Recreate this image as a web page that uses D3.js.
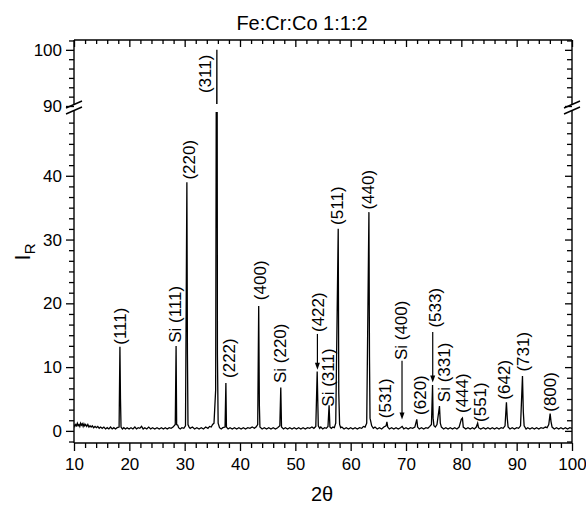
<!DOCTYPE html>
<html>
<head>
<meta charset="utf-8">
<title>Fe:Cr:Co 1:1:2</title>
<script src="https://cdn.jsdelivr.net/npm/d3@7"></script>
<style>
  body { margin: 0; background: #fff; }
  text { font-family: "Liberation Sans", Arial, sans-serif; fill: #000; }
</style>
</head>
<body>
<script>
// XRD pattern, [2theta, I_R]
var pattern = [
  [10.0, 1.0], [10.15, 0.7], [10.3, 1.0], [10.45, 0.8], [10.6, 1.2], [10.75, 0.8], [10.9, 1.0],
  [11.05, 0.7], [11.2, 1.2], [11.35, 0.9], [11.5, 1.1], [11.65, 0.7], [11.8, 1.1], [11.95, 0.8],
  [12.1, 1.0], [12.3, 0.7], [12.5, 1.0], [12.7, 0.6], [12.9, 0.8], [13.1, 0.6], [13.3, 0.8],
  [13.55, 0.5], [13.8, 0.7], [14.05, 0.5], [14.3, 0.7], [14.55, 0.4], [14.8, 0.6], [15.1, 0.4],
  [15.4, 0.6], [15.7, 0.3], [16.0, 0.5], [16.3, 0.3], [16.6, 0.6], [16.9, 0.3], [17.2, 0.5],
  [17.5, 0.3], [17.8, 0.5], [18.15, 0.6],
  [18.3, 13.2], [18.4, 5.0], [18.5, 0.6],
  [18.75, 0.3], [19.0, 0.5], [19.3, 0.3], [19.6, 0.5], [19.95, 0.3], [20.3, 0.5], [20.65, 0.3],
  [21.0, 0.6], [21.3, 0.3], [21.6, 0.5], [21.9, 0.4], [22.2, 0.7], [22.5, 0.3], [22.8, 0.5],
  [23.15, 0.3], [23.5, 0.6], [23.85, 0.3], [24.2, 0.5], [24.6, 0.3], [25.0, 0.5], [25.4, 0.3],
  [25.8, 0.5], [26.15, 0.3], [26.5, 0.5], [26.85, 0.3], [27.2, 0.5], [27.55, 0.4], [27.9, 0.6],
  [28.3, 1.0], [28.45, 13.3], [28.55, 1.0], [28.75, 0.9], [28.9, 0.5], [29.2, 0.3], [29.5, 0.5],
  [29.85, 0.4], [30.15, 0.8], [30.4, 39.0], [30.5, 12.0], [30.6, 1.0], [30.8, 0.6], [31.0, 0.4],
  [31.4, 0.6], [31.8, 0.3], [32.2, 0.5], [32.6, 0.3], [33.0, 0.5], [33.4, 0.3], [33.8, 0.6],
  [34.2, 0.4], [34.5, 0.7], [34.8, 0.6], [35.05, 1.0], [35.3, 1.2], [35.6, 6.4],
  [35.82, 100], [35.92, 12.0], [36.05, 1.2], [36.3, 0.5], [36.6, 0.3], [36.9, 0.5],
  [37.3, 0.6], [37.45, 7.5], [37.55, 0.6], [37.85, 0.3], [38.2, 0.5], [38.6, 0.3], [39.0, 0.5],
  [39.4, 0.3], [39.8, 0.5], [40.2, 0.3], [40.6, 0.5], [41.0, 0.3], [41.4, 0.5], [41.8, 0.4],
  [42.2, 0.6], [42.6, 0.4], [42.9, 0.6], [43.2, 1.0], [43.38, 19.6], [43.5, 4.0], [43.6, 0.6],
  [44.0, 0.3], [44.4, 0.5], [44.8, 0.3], [45.2, 0.5], [45.6, 0.3], [46.0, 0.5], [46.4, 0.3],
  [46.8, 0.5], [47.2, 0.8], [47.37, 6.8], [47.5, 0.6], [47.85, 0.3], [48.2, 0.5], [48.6, 0.3],
  [49.0, 0.5], [49.4, 0.3], [49.8, 0.5], [50.2, 0.3], [50.6, 0.5], [51.0, 0.3], [51.4, 0.5],
  [51.8, 0.3], [52.2, 0.5], [52.6, 0.4], [53.0, 0.6], [53.35, 0.4],
  [53.7, 0.7], [53.95, 9.3], [54.05, 5.0], [54.15, 0.8], [54.4, 0.4], [54.6, 0.6], [54.95, 0.3],
  [55.3, 0.5], [55.6, 0.4], [55.9, 0.7], [56.1, 4.0], [56.25, 0.6], [56.5, 0.4], [56.8, 0.6],
  [57.05, 0.5], [57.3, 1.2],
  [57.75, 31.7], [57.85, 6.0], [58.0, 1.0], [58.2, 0.5], [58.4, 0.6], [58.8, 0.3], [59.2, 0.5],
  [59.6, 0.3], [60.0, 0.5], [60.4, 0.3], [60.8, 0.5], [61.2, 0.3], [61.6, 0.5], [62.0, 0.4],
  [62.3, 0.7], [62.6, 0.6], [62.9, 1.2], [63.3, 34.3], [63.4, 11.6], [63.5, 2.0], [63.8, 0.8],
  [64.1, 0.4], [64.4, 0.6], [64.8, 0.3], [65.2, 0.5], [65.6, 0.3], [66.0, 0.6], [66.4, 0.8],
  [66.55, 1.4], [66.7, 0.6], [67.0, 0.3], [67.4, 0.5], [67.8, 0.3], [68.2, 0.5], [68.6, 0.3],
  [69.0, 0.5], [69.3, 0.7], [69.6, 0.3], [70.0, 0.5], [70.4, 0.3], [70.8, 0.5], [71.2, 0.4],
  [71.6, 0.6], [71.95, 1.8], [72.1, 0.6], [72.4, 0.3], [72.8, 0.5], [73.2, 0.3], [73.6, 0.5],
  [73.95, 0.4], [74.3, 0.7], [74.6, 1.0], [74.8, 7.2], [74.9, 2.0],
  [75.05, 0.8], [75.3, 0.6], [75.6, 1.0], [76.05, 3.9], [76.2, 1.2], [76.4, 0.6], [76.8, 0.3],
  [77.2, 0.5], [77.6, 0.3], [78.0, 0.5], [78.4, 0.3], [78.8, 0.5], [79.2, 0.3], [79.6, 0.6],
  [80.0, 1.8], [80.2, 2.0], [80.35, 0.6], [80.8, 0.3], [81.2, 0.5], [81.6, 0.3], [82.0, 0.5],
  [82.35, 0.3], [82.7, 0.6], [82.95, 1.2], [83.1, 0.5], [83.5, 0.3], [84.0, 0.5], [84.4, 0.3],
  [84.8, 0.5], [85.2, 0.3], [85.6, 0.5], [86.0, 0.3], [86.4, 0.5], [86.8, 0.3], [87.2, 0.5],
  [87.55, 0.4], [87.9, 0.8], [88.15, 4.5], [88.3, 2.0], [88.45, 0.6], [88.8, 0.3], [89.2, 0.5],
  [89.6, 0.3], [90.0, 0.5], [90.35, 0.4], [90.7, 0.8], [91.05, 8.6], [91.2, 3.0], [91.35, 0.8],
  [91.7, 0.3], [92.0, 0.5], [92.4, 0.3], [92.8, 0.5], [93.2, 0.3], [93.6, 0.5], [94.0, 0.3],
  [94.4, 0.5], [94.8, 0.4], [95.2, 0.6], [95.5, 0.5], [95.8, 1.0], [96.05, 2.7], [96.2, 1.5],
  [96.4, 0.6], [96.8, 0.3], [97.2, 0.5], [97.6, 0.3], [98.0, 0.5], [98.4, 0.3], [98.8, 0.5],
  [99.2, 0.3], [99.6, 0.5], [100.0, 0.4]
];

// peak labels: text, centre 2theta, intensity where the text starts
var labelText = ["(111)", "Si (111)", "(220)", "(311)", "(222)", "(400)", "Si (220)", "(422)",
  "Si (311)", "(511)", "(440)", "(531)", "Si (400)", "(620)", "(533)", "Si (331)", "(444)",
  "(551)", "(642)", "(731)", "(800)"];
var labelX = [18.35, 28.33, 30.87, 33.68, 38.13, 43.75, 47.38, 54.18,
  56.0, 57.63, 63.26, 66.34, 69.24, 72.6, 75.32, 76.87, 80.13,
  83.4, 87.75, 91.2, 96.19];
var labelY = [13.5, 13.8, 39.4, 92.3, 8.3, 20.5, 7.5, 15.5,
  3.8, 32.3, 34.7, 2.0, 11.1, 2.5, 16.2, 4.5, 2.8,
  1.4, 4.9, 9.3, 3.0];

// arrows: 2theta, from I, to I
var arrows = [[53.99, 15.2, 9.6], [69.28, 11.0, 1.8], [74.83, 15.5, 7.6]];

var xTicks = [10, 20, 30, 40, 50, 60, 70, 80, 90, 100];
var yTicksLow = [0, 10, 20, 30, 40];
var yTicksHigh = [90, 100];

var W = 586, H = 505;
var pLeft = 74, pRight = 572, pTop = 40, pBottom = 443;
var lowTop = 112, highBottom = 104;

var svg = d3.select("body").append("svg").attr("width", W).attr("height", H);

var x = d3.scaleLinear().domain([10, 100]).range([pLeft, pRight]);
var yLow = d3.scaleLinear().domain([-1.9, 50]).range([pBottom, lowTop]);
var yHigh = d3.scaleLinear().domain([90, 101.75]).range([106, pTop]);
function yAny(v) { return v > 70 ? yHigh(v) : yLow(v); }

var defs = svg.append("defs");
defs.append("clipPath").attr("id", "clipLow").append("rect")
  .attr("x", pLeft).attr("y", lowTop).attr("width", pRight - pLeft).attr("height", pBottom - lowTop);
defs.append("clipPath").attr("id", "clipHigh").append("rect")
  .attr("x", pLeft).attr("y", pTop).attr("width", pRight - pLeft).attr("height", highBottom - pTop);

// pattern, drawn once per panel
var lineLow = d3.line().x(function (d) { return x(d[0]); }).y(function (d) { return yLow(d[1]); });
var lineHigh = d3.line().x(function (d) { return x(d[0]); }).y(function (d) { return yHigh(d[1]); });
svg.append("path").datum(pattern).attr("clip-path", "url(#clipLow)")
  .attr("d", lineLow).attr("fill", "none").attr("stroke", "#000").attr("stroke-width", 1.3);
svg.append("path").datum(pattern).attr("clip-path", "url(#clipHigh)")
  .attr("d", lineHigh).attr("fill", "none").attr("stroke", "#000").attr("stroke-width", 1.3);

// axes
function styleAxis(g, size) {
  g.select(".domain").remove();
  g.selectAll("line").attr("stroke", "#000").attr("stroke-width", 1.3);
  g.selectAll("text").attr("font-family", "Liberation Sans, Arial, sans-serif")
    .attr("font-size", size).attr("fill", "#000");
}
var minorY = d3.range(-1, 31).map(function (i) { return i * 10 / 6; })
  .filter(function (v) { return Math.abs(v / 10 - Math.round(v / 10)) > 1e-6 && v <= 50; });
var minorYHigh = d3.range(54, 62).map(function (i) { return i * 10 / 6; })
  .filter(function (v) { return Math.abs(v / 10 - Math.round(v / 10)) > 1e-6 && v <= 101.75; });
var minorX = d3.range(10, 101, 2).filter(function (v) { return v % 10 !== 0; });

// left
svg.append("g").attr("transform", "translate(" + pLeft + ",0)")
  .call(d3.axisLeft(yLow).tickValues(yTicksLow).tickSize(8).tickPadding(4)).call(styleAxis, 17);
svg.append("g").attr("transform", "translate(" + pLeft + ",0)")
  .call(d3.axisLeft(yLow).tickValues(minorY).tickSize(5).tickFormat("")).call(styleAxis, 17);
svg.append("g").attr("transform", "translate(" + pLeft + ",0)")
  .call(d3.axisLeft(yHigh).tickValues(yTicksHigh).tickSize(8).tickPadding(4)).call(styleAxis, 17);
svg.append("g").attr("transform", "translate(" + pLeft + ",0)")
  .call(d3.axisLeft(yHigh).tickValues(minorYHigh).tickSize(5).tickFormat("")).call(styleAxis, 17);
// right (inward)
svg.append("g").attr("transform", "translate(" + pRight + ",0)")
  .call(d3.axisLeft(yLow).tickValues(yTicksLow).tickSize(7).tickFormat("")).call(styleAxis, 17);
svg.append("g").attr("transform", "translate(" + pRight + ",0)")
  .call(d3.axisLeft(yLow).tickValues(minorY).tickSize(5).tickFormat("")).call(styleAxis, 17);
svg.append("g").attr("transform", "translate(" + pRight + ",0)")
  .call(d3.axisLeft(yHigh).tickValues(yTicksHigh).tickSize(7).tickFormat("")).call(styleAxis, 17);
svg.append("g").attr("transform", "translate(" + pRight + ",0)")
  .call(d3.axisLeft(yHigh).tickValues(minorYHigh).tickSize(5).tickFormat("")).call(styleAxis, 17);
// bottom
svg.append("g").attr("transform", "translate(0," + pBottom + ")")
  .call(d3.axisBottom(x).tickValues(xTicks).tickSize(8).tickPadding(7)).call(styleAxis, 17);
svg.append("g").attr("transform", "translate(0," + pBottom + ")")
  .call(d3.axisBottom(x).tickValues(minorX).tickSize(5).tickFormat("")).call(styleAxis, 17);
// top (inward)
svg.append("g").attr("transform", "translate(0," + pTop + ")")
  .call(d3.axisBottom(x).tickValues(xTicks).tickSize(7).tickFormat("")).call(styleAxis, 17);
svg.append("g").attr("transform", "translate(0," + pTop + ")")
  .call(d3.axisBottom(x).tickValues(minorX).tickSize(4).tickFormat("")).call(styleAxis, 17);

// frame lines with the break
var frame = svg.append("g").attr("stroke", "#000").attr("stroke-width", 1.4).attr("fill", "none");
frame.append("line").attr("x1", pLeft).attr("x2", pRight).attr("y1", pTop).attr("y2", pTop);
frame.append("line").attr("x1", pLeft).attr("x2", pRight).attr("y1", pBottom).attr("y2", pBottom);
[pLeft, pRight].forEach(function (ax) {
  frame.append("line").attr("x1", ax).attr("x2", ax).attr("y1", pTop).attr("y2", highBottom);
  frame.append("line").attr("x1", ax).attr("x2", ax).attr("y1", lowTop - 1).attr("y2", pBottom);
  [104.5, 110.5].forEach(function (cy) {
    frame.append("line").attr("x1", ax - 8).attr("y1", cy + 3.5).attr("x2", ax + 8).attr("y2", cy - 3.5);
  });
});

// peak labels
svg.append("g").selectAll("text").data(labelText).enter().append("text")
  .attr("transform", function (d, i) {
    return "translate(" + x(labelX[i]) + "," + yAny(labelY[i]) + ") rotate(-90)";
  })
  .attr("dominant-baseline", "central")
  .attr("font-size", 17)
  .text(function (d) { return d; });

// arrows
var arr = svg.append("g");
arrows.forEach(function (a) {
  var ax = x(a[0]), y1 = yLow(a[1]), y2 = yLow(a[2]);
  arr.append("line").attr("x1", ax).attr("x2", ax).attr("y1", y1).attr("y2", y2 - 5)
    .attr("stroke", "#000").attr("stroke-width", 1.2);
  arr.append("path").attr("d", "M" + (ax - 2.5) + "," + (y2 - 7) + "L" + (ax + 2.5) + "," + (y2 - 7) + "L" + ax + "," + y2 + "Z")
    .attr("fill", "#000");
});

// titles
svg.append("text").attr("x", 302).attr("y", 30).attr("text-anchor", "middle")
  .attr("font-size", 20).text("Fe:Cr:Co 1:1:2");
svg.append("text").attr("x", 322).attr("y", 501).attr("text-anchor", "middle")
  .attr("font-size", 20).text("2\u03b8");
var yl = svg.append("text").attr("transform", "translate(30,252) rotate(-90)")
  .attr("text-anchor", "middle").attr("font-size", 22);
yl.append("tspan").text("I");
yl.append("tspan").attr("dy", 5).attr("font-size", 15).text("R");
</script>
</body>
</html>
